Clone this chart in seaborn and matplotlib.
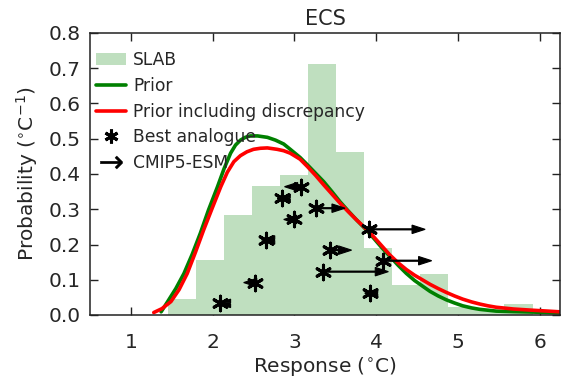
import numpy as np
import pandas as pd
import matplotlib
matplotlib.use("Agg")
import matplotlib.pyplot as plt
import seaborn as sns
from matplotlib.patches import Patch
from matplotlib.lines import Line2D

# ---- data ----
slab_edges = [1.455, 1.798, 2.141, 2.484, 2.827, 3.170, 3.513, 3.856,
              4.199, 4.542, 4.885, 5.228, 5.571, 5.914]
slab_heights = [0.045, 0.156, 0.284, 0.366, 0.397, 0.712, 0.461, 0.189,
                0.085, 0.116, 0.022, 0.014, 0.031]

prior_x = [1.37, 1.45, 1.55, 1.65, 1.75, 1.85, 1.95, 2.06, 2.14, 2.22, 2.28,
           2.34, 2.40, 2.46, 2.55, 2.67, 2.77, 2.87, 2.95, 3.07, 3.16, 3.26,
           3.36, 3.46, 3.56, 3.66, 3.76, 3.87, 3.97, 4.07, 4.17, 4.27, 4.37,
           4.47, 4.58, 4.66, 4.76, 4.86, 4.96, 5.06, 5.17, 5.27, 5.47, 5.68,
           5.88, 6.25]
prior_y = [0.009, 0.038, 0.075, 0.118, 0.172, 0.232, 0.298, 0.364, 0.415,
           0.459, 0.482, 0.496, 0.504, 0.508, 0.508, 0.504, 0.496, 0.485,
           0.470, 0.447, 0.426, 0.402, 0.378, 0.350, 0.321, 0.295, 0.270,
           0.244, 0.218, 0.191, 0.166, 0.141, 0.118, 0.098, 0.080, 0.067,
           0.054, 0.043, 0.034, 0.026, 0.020, 0.016, 0.011, 0.0095, 0.0085,
           0.006]

disc_x = [1.28, 1.38, 1.49, 1.59, 1.69, 1.79, 1.89, 2.00, 2.10, 2.18, 2.26,
          2.34, 2.42, 2.50, 2.585, 2.67, 2.79, 2.87, 2.95, 3.07, 3.16, 3.26,
          3.36, 3.46, 3.56, 3.66, 3.76, 3.87, 3.97, 4.07, 4.17, 4.27, 4.37,
          4.47, 4.58, 4.66, 4.76, 4.86, 4.96, 5.06, 5.17, 5.27, 5.37, 5.47,
          5.68, 5.88, 6.25]
disc_y = [0.007, 0.018, 0.038, 0.072, 0.118, 0.178, 0.241, 0.306, 0.364,
          0.405, 0.435, 0.452, 0.463, 0.470, 0.473, 0.474, 0.470, 0.466,
          0.459, 0.442, 0.421, 0.396, 0.369, 0.343, 0.317, 0.293, 0.270,
          0.246, 0.222, 0.196, 0.170, 0.148, 0.129, 0.113, 0.098, 0.087,
          0.075, 0.064, 0.054, 0.045, 0.037, 0.031, 0.026, 0.022, 0.017,
          0.014, 0.009]

analogue_x = [3.08, 2.85, 2.99, 2.65, 2.52, 2.09, 3.27, 3.91, 3.44, 4.09, 3.35, 3.92]
analogue_y = [0.364, 0.331, 0.271, 0.213, 0.092, 0.033, 0.303, 0.243, 0.184, 0.154, 0.123, 0.062]
esm_x = [2.88, 2.79, 2.87, 2.60, 2.38, 2.06, 3.62, 4.60, 3.70, 4.68, 4.15, 3.86]

x_ticks = [1, 2, 3, 4, 5, 6]
y_ticks = [0.0, 0.1, 0.2, 0.3, 0.4, 0.5, 0.6, 0.7, 0.8]

# ---- styling ----
sns.set_style("ticks")
plt.rcParams["font.family"] = ["DejaVu Sans"]
plt.rcParams["mathtext.fontset"] = "dejavusans"

W, H = 561, 379
fig = plt.figure(figsize=(W / 100, H / 100), dpi=100)
ax = fig.add_axes([90 / W, 1 - 315 / H, (560 - 90) / W, (315 - 33) / H])

slab_green = "#bfdfbf"
centers = [(a + b) / 2 for a, b in zip(slab_edges[:-1], slab_edges[1:])]
hist_df = pd.DataFrame({"x": centers, "w": slab_heights})
sns.histplot(data=hist_df, x="x", weights="w", bins=slab_edges, stat="count",
             color=slab_green, alpha=1.0, linewidth=0, element="bars",
             ax=ax, zorder=1)

prior_df = pd.DataFrame({"x": prior_x, "y": prior_y})
disc_df = pd.DataFrame({"x": disc_x, "y": disc_y})
sns.lineplot(data=prior_df, x="x", y="y", color="green", lw=2.6,
             sort=False, estimator=None, ax=ax, zorder=2)
sns.lineplot(data=disc_df, x="x", y="y", color="red", lw=2.6,
             sort=False, estimator=None, ax=ax, zorder=2.1)

for x0, y0, x1 in zip(analogue_x, analogue_y, esm_x):
    ax.arrow(x0, y0, x1 - x0, 0, width=0.003, head_width=0.024,
             head_length=0.16, length_includes_head=True, fc="black",
             ec="black", lw=0.8, zorder=3)

star = (6, 2, 0)
an_df = pd.DataFrame({"x": analogue_x, "y": analogue_y})
sns.scatterplot(data=an_df, x="x", y="y", marker=star, s=110, color="black",
                linewidth=2.2, ax=ax, zorder=4)

ax.set_xlim(0.5, 6.25)
ax.set_ylim(0, 0.8)
ax.set_xticks(x_ticks)
ax.set_yticks(y_ticks)
ax.set_xticklabels([str(t) for t in x_ticks])
ax.set_yticklabels([f"{t:.1f}" for t in y_ticks])
ax.tick_params(direction="in", top=True, right=True, length=6, width=1,
               labelsize=14.5, color="#222222")
ax.tick_params(axis="x", pad=13)
ax.tick_params(axis="y", pad=7)
for s in ax.spines.values():
    s.set_linewidth(1.1)
    s.set_color("#222222")

ax.set_title("ECS", fontsize=15, pad=6)
ax.set_xlabel("Response ($^{\\circ}$C)", fontsize=14.5, labelpad=2)
ax.set_ylabel("Probability ($^{\\circ}$C$^{-1}$)", fontsize=14.5, labelpad=6)

handles = [
    Patch(facecolor=slab_green, edgecolor="none", label="SLAB"),
    Line2D([], [], color="green", lw=2.6, label="Prior"),
    Line2D([], [], color="red", lw=2.6, label="Prior including discrepancy"),
    Line2D([], [], color="black", marker=star, ls="none", markersize=10,
           markeredgewidth=2.2, label="Best analogue"),
    Line2D([], [], color="black", marker="$\\rightarrow$", ls="none",
           markersize=16, markeredgewidth=0.3, label="CMIP5-ESM"),
]
ax.legend(handles=handles, loc="upper left", frameon=False, fontsize=12.3,
          handlelength=1.8, handletextpad=0.4, labelspacing=0.45,
          borderaxespad=0.0, borderpad=0.0,
          bbox_to_anchor=(0.012, 0.935))

fig.savefig("out.png", dpi=100)
